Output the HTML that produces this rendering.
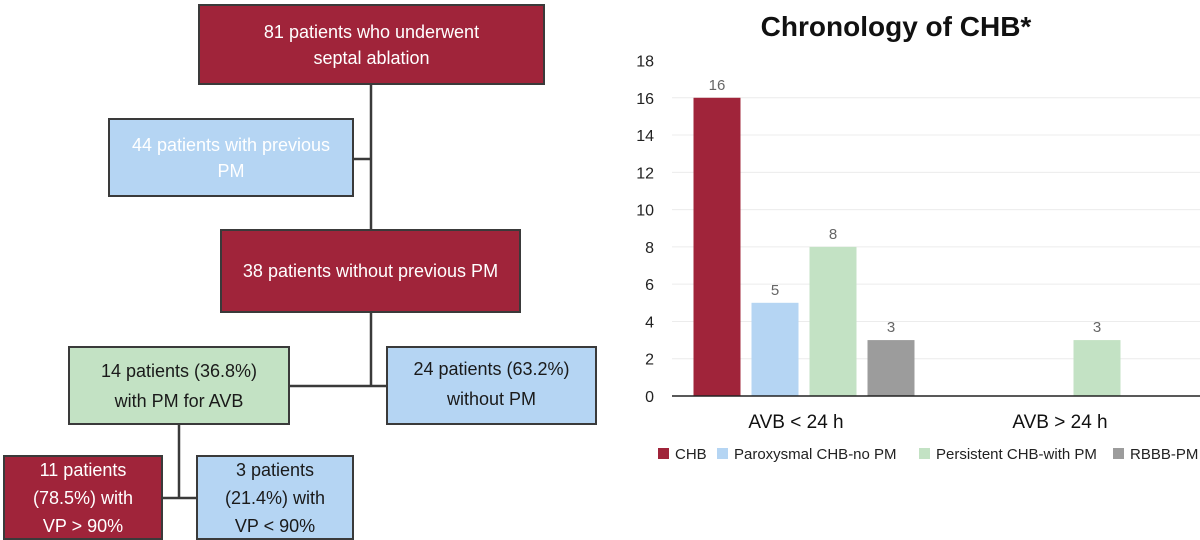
<!DOCTYPE html>
<html><head><meta charset="utf-8">
<style>
body{margin:0;width:1200px;height:538px;background:#fff;overflow:hidden;position:relative;font-family:"Liberation Sans",sans-serif}
.box{position:absolute;box-sizing:border-box;border:2px solid #3a3a3a;display:flex;flex-direction:column;justify-content:center;align-items:center;text-align:center;font-size:18px;line-height:26px}
.red{background:#a0243a;color:#fff}
.blue{background:#b5d5f3;color:#1a1a1a}
.green{background:#c3e2c4;color:#1a1a1a}
</style></head><body>
<svg style="position:absolute;left:0;top:0" width="600" height="538">
<g stroke="#3a3a3a" stroke-width="2.5" fill="none">
<line x1="371" y1="85" x2="371" y2="229"/>
<line x1="354" y1="159" x2="371" y2="159"/>
<line x1="371" y1="313" x2="371" y2="386"/>
<line x1="290" y1="386" x2="386" y2="386"/>
<line x1="179" y1="425" x2="179" y2="498"/>
<line x1="163" y1="498" x2="196" y2="498"/>
</g></svg>
<div class="box red" style="left:198px;top:4px;width:347px;height:81px">81 patients who underwent<br>septal ablation</div>
<div class="box blue" style="left:108px;top:118px;width:246px;height:79px;color:#fff">44 patients with previous<br>PM</div>
<div class="box red" style="left:220px;top:229px;width:301px;height:84px">38 patients without previous PM</div>
<div class="box green" style="left:68px;top:346px;width:222px;height:79px;line-height:30px">14 patients (36.8%)<br>with PM for AVB</div>
<div class="box blue" style="left:386px;top:346px;width:211px;height:79px;line-height:30px;justify-content:flex-start;padding-top:6px">24 patients (63.2%)<br>without PM</div>
<div class="box red" style="left:3px;top:455px;width:160px;height:85px;line-height:28px">11 patients<br>(78.5%) with<br>VP &gt; 90%</div>
<div class="box blue" style="left:196px;top:455px;width:158px;height:85px;line-height:28px">3 patients<br>(21.4%) with<br>VP &lt; 90%</div>

<svg id="chart" style="position:absolute;left:600px;top:0" width="600" height="538"></svg>
<script>
const categories=["AVB < 24 h","AVB > 24 h"];
const seriesNames=["CHB","Paroxysmal CHB-no PM","Persistent CHB-with PM","RBBB-PM"];
const chbValues=[16,null];
const paroxValues=[5,null];
const persistValues=[8,3];
const rbbbValues=[3,null];
const yTicks=[0,2,4,6,8,10,12,14,16,18];
const colors=["#a0243a","#b5d5f3","#c3e2c4","#9c9c9c"];
const series=[chbValues,paroxValues,persistValues,rbbbValues];
const NS="http://www.w3.org/2000/svg";
const svg=document.getElementById("chart");
const L=72,R=600,Y0=396,Y18=60.5;
function y(v){return Y0-(v/18)*(Y0-Y18);}
function xc(i){return L+(R-L)/categories.length*(i+0.5);}
function mk(t,a){const e=document.createElementNS(NS,t);for(const k in a)e.setAttribute(k,a[k]);svg.appendChild(e);return e;}
const title=mk("text",{x:296,y:36,"text-anchor":"middle","font-size":"28","font-weight":"bold",fill:"#111"});
title.textContent="Chronology of CHB*";


yTicks.forEach(t=>{
  if(t>0&&t<18){const g=mk("line",{x1:L,x2:R,y1:y(t),y2:y(t),stroke:"#ececec","stroke-width":1});
  
  }
  const tx=mk("text",{x:54,y:y(t)+6,"text-anchor":"end","font-size":"16",fill:"#222"});
  tx.textContent=t;
  
  
});
const offsets=[-87,-29,29,87];
const bw=47;
categories.forEach((c,ci)=>{
  series.forEach((s,si)=>{
    const v=s[ci]; if(v==null) return;
    const cx=xc(ci)+offsets[si];
    const r=mk("rect",{x:cx-bw/2,y:y(v),width:bw,height:Y0-y(v),fill:colors[si]});
    
    
    const lb=mk("text",{x:cx,y:y(v)-8,"text-anchor":"middle","font-size":"15",fill:"#666"});
    lb.textContent=v;
    
    
  });
  const cl=mk("text",{x:xc(ci)-8,y:428,"text-anchor":"middle","font-size":"19",fill:"#111"});
  cl.textContent=c;
  
  
});
const ax=mk("line",{x1:L,x2:R,y1:Y0,y2:Y0,stroke:"#222","stroke-width":1.5});


const legX=[58,117,319,513];
seriesNames.forEach((n,i)=>{
  const sq=mk("rect",{x:legX[i],y:448,width:11,height:11,fill:colors[i]});
  
  
  const t=mk("text",{x:legX[i]+17,y:459,"font-size":"15",fill:"#222"});
  t.textContent=n;
  
  
});
</script>
</body></html>
